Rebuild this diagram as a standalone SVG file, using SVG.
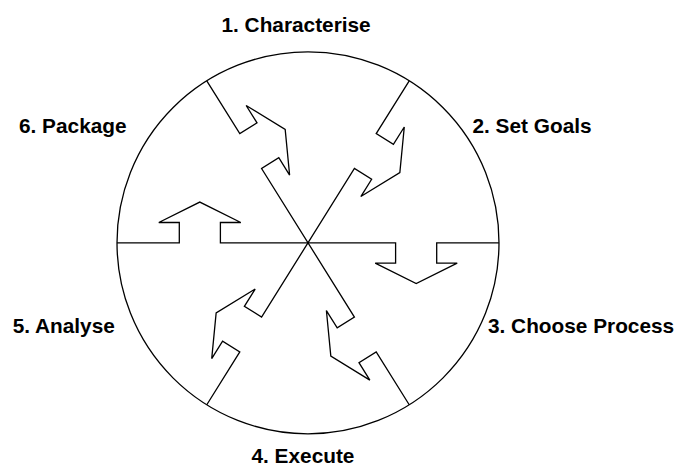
<svg xmlns="http://www.w3.org/2000/svg" width="678" height="466" viewBox="0 0 678 466">
  <style>
    .line { fill: none; stroke: #000; stroke-width: 1.3; stroke-linejoin: miter; }
    .label { font-family: "Liberation Sans", Arial, sans-serif; font-weight: bold; font-size: 20.8px; fill: #000; }
  </style>
  <defs>
    <!-- one diameter with an outward arrow on each half (point-symmetric) -->
    <path id="spoke" d="M -191 0 H -128.7 V -20.3 H -149.2 L -108.2 -40.7 L -67.2 -20.3 H -87.6 V 0 H 87.6 V 20.3 H 67.2 L 108.2 40.7 L 149.2 20.3 H 128.7 V 0 H 191"/>
  </defs>
  <rect width="678" height="466" fill="#fff"/>

  <g id="wheel" transform="translate(308 242.8)">
    <circle class="line" cx="0" cy="0" r="191"/>
    <g id="connectors">
      <use href="#spoke" class="line"/>
      <use href="#spoke" class="line" transform="rotate(58)"/>
      <use href="#spoke" class="line" transform="rotate(-58)"/>
    </g>
  </g>

  <g id="step1"><text class="label" x="221.5" y="31.7">1. Characterise</text></g>
  <g id="step2"><text class="label" x="472.5" y="132.7">2. Set Goals</text></g>
  <g id="step3"><text class="label" x="488" y="332.7">3. Choose Process</text></g>
  <g id="step4"><text class="label" x="251.5" y="462.5">4. Execute</text></g>
  <g id="step5"><text class="label" x="12.7" y="332.7">5. Analyse</text></g>
  <g id="step6"><text class="label" x="19" y="132.7">6. Package</text></g>
</svg>
